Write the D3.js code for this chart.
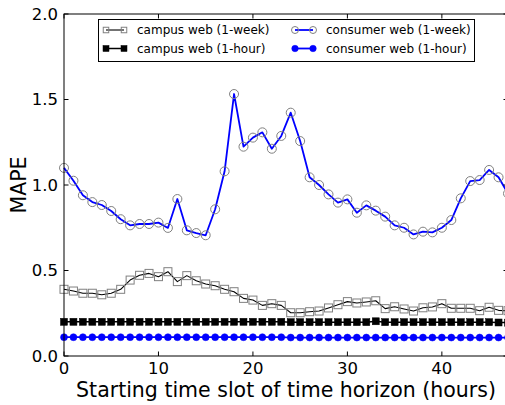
<!DOCTYPE html>
<html>
<head>
<meta charset="utf-8">
<script src="https://cdn.jsdelivr.net/npm/d3@7"></script>
<style>
html,body{margin:0;padding:0;background:#fff;overflow:hidden;}
svg{display:block;font-family:"DejaVu Sans",sans-serif;}
</style>
</head>
<body>
<svg id="chart" width="505" height="405"></svg>
<script>
const hours = d3.range(0, 48);
const consumerWeek = [1.10,1.025,0.94,0.90,0.883,0.848,0.80,0.764,0.772,0.772,0.78,0.749,0.918,0.735,0.719,0.706,0.858,1.08,1.532,1.224,1.277,1.308,1.212,1.287,1.423,1.257,1.045,1.0,0.945,0.897,0.916,0.838,0.881,0.85,0.815,0.764,0.75,0.711,0.727,0.723,0.75,0.795,0.922,1.023,1.029,1.088,1.045,0.95];
const campusWeek = [0.39,0.38,0.367,0.367,0.358,0.367,0.39,0.444,0.472,0.483,0.464,0.493,0.435,0.47,0.44,0.421,0.411,0.39,0.376,0.337,0.327,0.296,0.306,0.296,0.253,0.253,0.259,0.263,0.281,0.30,0.318,0.31,0.316,0.323,0.277,0.288,0.275,0.263,0.282,0.287,0.306,0.279,0.279,0.279,0.265,0.285,0.267,0.265];
const campusHour = [0.20,0.20,0.20,0.20,0.20,0.20,0.20,0.20,0.20,0.20,0.20,0.20,0.20,0.20,0.20,0.20,0.20,0.20,0.20,0.20,0.20,0.20,0.20,0.20,0.198,0.198,0.198,0.198,0.198,0.198,0.198,0.198,0.198,0.203,0.198,0.198,0.198,0.198,0.198,0.198,0.198,0.198,0.198,0.198,0.198,0.198,0.196,0.195];
const consumerHour = [0.11,0.11,0.11,0.11,0.11,0.11,0.11,0.11,0.11,0.11,0.11,0.11,0.11,0.11,0.11,0.11,0.11,0.11,0.11,0.11,0.11,0.11,0.11,0.11,0.108,0.108,0.108,0.108,0.108,0.108,0.108,0.108,0.108,0.108,0.108,0.108,0.108,0.108,0.108,0.108,0.108,0.108,0.108,0.108,0.108,0.108,0.108,0.108];
const xTicks = [0,10,20,30,40];
const yTicks = [0,0.5,1.0,1.5,2.0];
const seriesNames = ["campus web (1-week)","campus web (1-hour)","consumer web (1-week)","consumer web (1-hour)"];

const L = 64, R = 508, T = 14, B = 356;
const svg = d3.select("#chart");
const x = d3.scaleLinear().domain([0,47]).range([L,R]);
const y = d3.scaleLinear().domain([0,2]).range([B,T]);

svg.append("defs").append("clipPath").attr("id","clip")
  .append("rect").attr("x",L-6).attr("y",T-6).attr("width",R-L+12).attr("height",B-T+12);

const blue = "#0000ff";
const grey = "#808080";

const series = [
  {vals: campusWeek, line:"#000", lw:1.1, marker:"square", size:8, fill:"none", stroke:grey},
  {vals: campusHour, line:"#000", lw:1.5, marker:"square", size:7, fill:"#000", stroke:"#000"},
  {vals: consumerWeek, line:blue, lw:1.8, marker:"circle", size:9, fill:"none", stroke:grey},
  {vals: consumerHour, line:blue, lw:1.8, marker:"circle", size:7, fill:blue, stroke:blue}
];

const plot = svg.append("g").attr("clip-path","url(#clip)");
const lineGen = d3.line().x((d,i)=>x(hours[i])).y(d=>y(d));

function drawMarker(g, type, cx, cy, size, fill, stroke){
  if(type==="square"){
    g.append("rect").attr("x",cx-size/2).attr("y",cy-size/2).attr("width",size).attr("height",size)
      .attr("fill",fill).attr("stroke",stroke).attr("stroke-width",fill==="none"?1:0.5);
  } else {
    g.append("circle").attr("cx",cx).attr("cy",cy).attr("r",size/2)
      .attr("fill",fill).attr("stroke",stroke).attr("stroke-width",fill==="none"?1:0.5);
  }
}

series.forEach(s=>{
  const g = plot.append("g");
  g.append("path").datum(s.vals).attr("d",lineGen).attr("fill","none")
    .attr("stroke",s.line).attr("stroke-width",s.lw).attr("stroke-linejoin","round");
  s.vals.forEach((v,i)=>drawMarker(g, s.marker, x(hours[i]), y(v), s.size, s.fill, s.stroke));
});

// frame
svg.append("rect").attr("x",L).attr("y",T).attr("width",R-L).attr("height",B-T)
  .attr("fill","none").attr("stroke","#000").attr("stroke-width",1);

// ticks inward
const tl = 4.5;
xTicks.forEach(t=>{
  svg.append("line").attr("x1",x(t)).attr("x2",x(t)).attr("y1",B).attr("y2",B-tl).attr("stroke","#000");
  svg.append("line").attr("x1",x(t)).attr("x2",x(t)).attr("y1",T).attr("y2",T+tl).attr("stroke","#000");
  svg.append("text").attr("x",x(t)).attr("y",B+18).attr("text-anchor","middle")
    .attr("font-size",16.5).text(d3.format("d")(t));
});
yTicks.forEach(t=>{
  svg.append("line").attr("x1",L).attr("x2",L+tl).attr("y1",y(t)).attr("y2",y(t)).attr("stroke","#000");
  svg.append("line").attr("x1",R).attr("x2",R-tl).attr("y1",y(t)).attr("y2",y(t)).attr("stroke","#000");
  svg.append("text").attr("x",L-6).attr("y",y(t)).attr("dy","0.36em").attr("text-anchor","end")
    .attr("font-size",16.5).text(d3.format(".1f")(t));
});

svg.append("text").attr("x",(L+R)/2).attr("y",397).attr("text-anchor","middle")
  .attr("font-size",20.5).text("Starting time slot of time horizon (hours)");
svg.append("text").attr("transform",`translate(26,${(T+B)/2}) rotate(-90)`).attr("text-anchor","middle")
  .attr("font-size",20.5).text("MAPE");

// legend
const lg = svg.append("g");
lg.append("rect").attr("x",98.5).attr("y",19.5).attr("width",376).attr("height",42)
  .attr("fill","#fff").attr("stroke","#000").attr("stroke-width",1);
const legPos = [[103,30],[103,48.5],[292,30],[292,48.5]];
[0,1,2,3].forEach((si,k)=>{
  const s = series[si];
  const [lx,ly] = legPos[k];
  lg.append("line").attr("x1",lx+3).attr("x2",lx+21).attr("y1",ly).attr("y2",ly)
    .attr("stroke",s.line).attr("stroke-width",s.lw);
  const ms = s.marker==="square" ? (s.fill==="none"?5.5:6) : (s.fill==="none"?7:6.5);
  drawMarker(lg, s.marker, lx+3, ly, ms, s.fill, s.stroke);
  drawMarker(lg, s.marker, lx+21, ly, ms, s.fill, s.stroke);
  lg.append("text").attr("x",lx+34).attr("y",ly).attr("dy","0.36em").attr("font-size",12)
    .text(seriesNames[si]);
});
</script>
</body>
</html>
